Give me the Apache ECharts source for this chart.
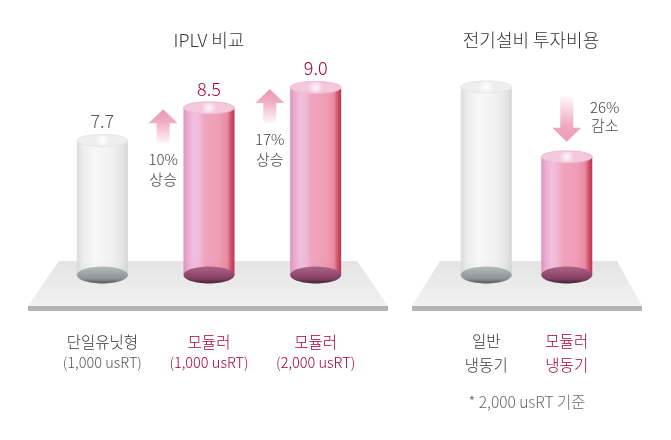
<!DOCTYPE html>
<html><head><meta charset="utf-8">
<script src="https://cdn.jsdelivr.net/npm/echarts@6/dist/echarts.min.js"></script>
<style>html,body{margin:0;padding:0;background:#fff}#c{width:671px;height:440px}</style>
</head><body><div id="c"></div>
<script>
// ---- data ----
const iplvCategories = ['단일유닛형', '모듈러', '모듈러'];
const iplvCapacity = ['(1,000 usRT)', '(1,000 usRT)', '(2,000 usRT)'];
const iplvKinds = ['base', 'modular', 'modular'];
const iplvValues = [7.7, 8.5, 9.0];
const iplvChange = ['10%', '17%'];
const iplvChangeWord = '상승';

const costCategories = ['일반', '모듈러'];
const costSub = ['냉동기', '냉동기'];
const costKinds = ['base', 'modular'];
const costValues = [100, 74];
const costChange = '26%';
const costChangeWord = '감소';

const titles = ['IPLV 비교', '전기설비 투자비용'];
const footnote = '* 2,000 usRT 기준';

// ---- style ----
const FONT = "'Noto Sans CJK KR','Noto Sans',sans-serif";
const FW = 300;
const RED = '#a50034';
const DARK = '#333333';
const LG = echarts.graphic.LinearGradient;
const RG = echarts.graphic.RadialGradient;
const IPLV_MIN = 4.4, COST_MIN = 30;

function cylinderRender(kinds, yMin, showLabel) {
  return function (params, api) {
    const i = params.dataIndex;
    const v = api.value(1);
    const top = api.coord([api.value(0), v]);
    const bot = api.coord([api.value(0), yMin]);
    const w = 51, rx = w / 2, ryT = 6, ryB = 8.5;
    const pink = kinds[i] !== 'base';
    const body = pink
      ? new LG(0, 0, 1, 0, [
          {offset: 0, color: '#e08cb4'}, {offset: 0.08, color: '#e8a6cc'},
          {offset: 0.2, color: '#eebce0'}, {offset: 0.32, color: '#efb4d2'},
          {offset: 0.42, color: '#ef9fbb'}, {offset: 0.7, color: '#ee97b1'},
          {offset: 0.86, color: '#e9849e'}, {offset: 0.92, color: '#d0506c'},
          {offset: 1, color: '#b52a45'}])
      : new LG(0, 0, 1, 0, [
          {offset: 0, color: '#d8d8d8'}, {offset: 0.12, color: '#ebebeb'},
          {offset: 0.35, color: '#f7f7f7'}, {offset: 0.7, color: '#f0f0f0'},
          {offset: 0.9, color: '#e2e2e2'}, {offset: 1, color: '#d0d0d0'}]);
    const bottomFill = pink
      ? new LG(0, 0, 0, 1, [{offset: 0, color: '#ad6388'}, {offset: 0.7, color: '#843f62'}, {offset: 1, color: '#432538'}])
      : new LG(0, 0, 0, 1, [{offset: 0, color: '#b6bbbb'}, {offset: 0.7, color: '#8e9595'}, {offset: 1, color: '#535a5a'}]);
    const topFill = pink
      ? new RG(0.5, 0.5, 0.6, [{offset: 0, color: '#fdf6f9'}, {offset: 1, color: '#f3c8da'}])
      : new RG(0.5, 0.5, 0.6, [{offset: 0, color: '#ffffff'}, {offset: 1, color: '#eeeeee'}]);
    const children = [
      {type: 'rect', shape: {x: top[0] - rx, y: top[1], width: w, height: bot[1] - top[1]},
       style: {fill: body, opacity: pink ? 0.95 : 0.9}},
      {type: 'ellipse', shape: {cx: bot[0], cy: bot[1], rx: rx, ry: ryB}, style: {fill: bottomFill}},
      {type: 'ellipse', shape: {cx: top[0], cy: top[1], rx: rx, ry: ryT},
       style: {fill: topFill, stroke: pink ? '#efbace' : '#e4e4e4', lineWidth: 1}}
    ];
    if (showLabel) {
      children.push({type: 'text', style: {
        text: String(v.toFixed(1)), x: top[0], y: top[1] - 19, align: 'center', verticalAlign: 'middle',
        fontSize: 18, fontWeight: FW, fontFamily: FONT, fill: pink ? RED : '#555'}});
    }
    return {type: 'group', children: children};
  };
}

function arrowShape(cx, tipY, len, dir) {
  const hw = 14.5, sw = 6.5, hh = 14;
  const d = dir; // -1 = up, 1 = down
  const p = (x, y) => [cx + x, tipY - d * y];
  return [p(0, 0), p(hw, hh), p(sw, hh), p(sw, len), p(-sw, len), p(-sw, hh), p(-hw, hh)];
}
function arrowFill(dir) {
  const stops = [{offset: 0, color: '#eb98b2'}, {offset: 0.35, color: '#efaac2'}, {offset: 1, color: '#fff6f9'}];
  return dir < 0 ? new LG(0, 0, 0, 1, stops) : new LG(0, 1, 0, 0, stops);
}

const chart = echarts.init(document.getElementById('c'), null, {renderer: 'canvas'});
chart.setOption({
  animation: false,
  textStyle: {fontFamily: FONT},
  graphic: [
    {type: 'polygon', z: -10, shape: {points: [[59, 261], [357, 261], [388, 306], [28, 306]]},
     style: {fill: new LG(0, 0, 0, 1, [{offset: 0, color: '#e4e4e4'}, {offset: 1, color: '#f1f1f1'}])}},
    {type: 'rect', z: -10, shape: {x: 28, y: 306, width: 360, height: 5}, style: {fill: '#b4b4b4'}},
    {type: 'polygon', z: -10, shape: {points: [[440, 261], [617, 261], [642, 306], [412, 306]]},
     style: {fill: new LG(0, 0, 0, 1, [{offset: 0, color: '#e4e4e4'}, {offset: 1, color: '#f1f1f1'}])}},
    {type: 'rect', z: -10, shape: {x: 412, y: 306, width: 230, height: 5}, style: {fill: '#b4b4b4'}},
    {type: 'text', style: {text: titles[0], x: 209, y: 40, align: 'center', verticalAlign: 'middle', fontSize: 18, fontWeight: FW, fontFamily: FONT, fill: DARK}},
    {type: 'text', style: {text: titles[1], x: 531, y: 40, align: 'center', verticalAlign: 'middle', fontSize: 18, fontWeight: FW, fontFamily: FONT, fill: DARK}},
    {type: 'text', style: {text: footnote, x: 527, y: 402, align: 'center', verticalAlign: 'middle', fontSize: 15.5, fontWeight: FW, fontFamily: FONT, fill: '#666'}}
  ],
  grid: [
    {left: 49, width: 320, top: 67, bottom: 165},
    {left: 446, width: 161, top: 87, bottom: 165}
  ],
  xAxis: [
    {gridIndex: 0, type: 'value', min: -0.5, max: 2.5, show: false},
    {gridIndex: 0, type: 'category', data: iplvCategories, position: 'bottom',
     axisLine: {show: false}, axisTick: {show: false}, splitLine: {show: false},
     axisLabel: {margin: 56.5, interval: 0,
       formatter: (val, idx) => {
         const c = iplvKinds[idx] === 'base' ? 'g' : 'r';
         return '{' + c + 'a|' + val + '}\n{' + c + 'b|' + iplvCapacity[idx] + '}';
       },
       rich: {
         ga: {fontSize: 15.5, color: DARK, lineHeight: 20.5, fontWeight: FW, fontFamily: FONT},
         gb: {fontSize: 14.5, color: '#555', lineHeight: 20.5, fontWeight: FW, fontFamily: FONT},
         ra: {fontSize: 15.5, color: RED, lineHeight: 20.5, fontWeight: FW, fontFamily: FONT},
         rb: {fontSize: 14.5, color: RED, lineHeight: 20.5, fontWeight: FW, fontFamily: FONT}
       }}},
    {gridIndex: 1, type: 'value', min: -0.5, max: 1.5, show: false},
    {gridIndex: 1, type: 'category', data: costCategories, position: 'bottom',
     axisLine: {show: false}, axisTick: {show: false}, splitLine: {show: false},
     axisLabel: {margin: 54, interval: 0,
       formatter: (val, idx) => {
         const c = costKinds[idx] === 'base' ? 'g' : 'r';
         return '{' + c + '|' + val + '}\n{' + c + '|' + costSub[idx] + '}';
       },
       rich: {
         g: {fontSize: 15.5, color: DARK, lineHeight: 24, fontWeight: FW, fontFamily: FONT},
         r: {fontSize: 15.5, color: RED, lineHeight: 24, fontWeight: FW, fontFamily: FONT}
       }}}
  ],
  yAxis: [
    {gridIndex: 0, type: 'value', min: IPLV_MIN, max: 9.5, show: false},
    {gridIndex: 1, type: 'value', min: COST_MIN, max: 100, show: false}
  ],
  series: [
    {type: 'custom', name: 'IPLV', xAxisIndex: 0, yAxisIndex: 0,
     data: iplvValues.map((v, i) => [i, v]),
     renderItem: cylinderRender(iplvKinds, IPLV_MIN, true)},
    {type: 'custom', name: 'IPLV change', xAxisIndex: 0, yAxisIndex: 0, z: 3,
     data: iplvChange.map((t, i) => [i, iplvValues[i + 1]]),
     renderItem: function (params, api) {
       const i = params.dataIndex;
       const p = api.coord([api.value(0) + 0.57, api.value(1)]);
       const tip = p[1] + 1.5, len = 34;
       return {type: 'group', children: [
         {type: 'polygon', shape: {points: arrowShape(p[0], tip, len, -1)}, style: {fill: arrowFill(-1)}},
         {type: 'text', style: {text: iplvChange[i] + '\n' + iplvChangeWord, x: p[0], y: tip + len + 6,
           align: 'center', verticalAlign: 'top', fontSize: 15, lineHeight: 20, fontWeight: FW, fontFamily: FONT, fill: '#444'}}
       ]};
     }},
    {type: 'custom', name: 'Cost', xAxisIndex: 2, yAxisIndex: 1,
     data: costValues.map((v, i) => [i, v]),
     renderItem: cylinderRender(costKinds, COST_MIN, false)},
    {type: 'custom', name: 'Cost change', xAxisIndex: 2, yAxisIndex: 1, z: 3,
     data: [[1, costValues[1]]],
     renderItem: function (params, api) {
       const p = api.coord([api.value(0), api.value(1)]);
       const tip = p[1] - 15, len = 45;
       return {type: 'group', children: [
         {type: 'polygon', shape: {points: arrowShape(p[0], tip, len, 1)}, style: {fill: arrowFill(1)}},
         {type: 'text', style: {text: costChange + '\n' + costChangeWord, x: p[0] + 38, y: tip - len + 1,
           align: 'center', verticalAlign: 'top', fontSize: 15, lineHeight: 18, fontWeight: FW, fontFamily: FONT, fill: '#444'}}
       ]};
     }}
  ]
});
</script>
</body></html>
